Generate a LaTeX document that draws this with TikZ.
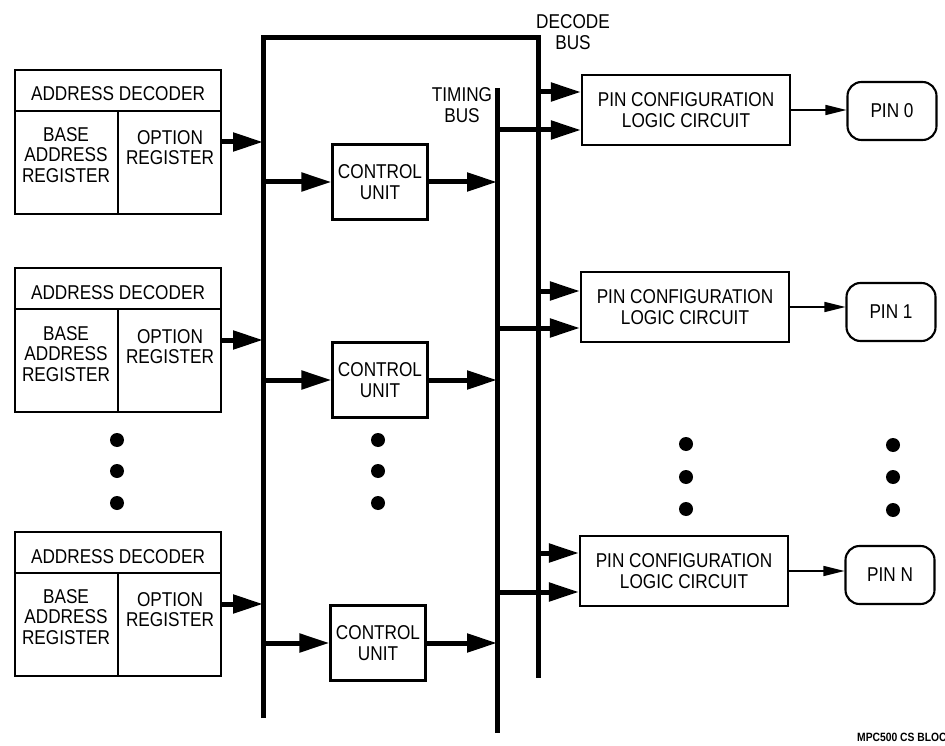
\documentclass[tikz,border=0pt]{standalone}
\usepackage{fontspec}
\setmainfont{Liberation Sans}[FakeStretch=0.86]
\usetikzlibrary{arrows.meta,calc}
\newcommand{\lbl}{\fontsize{20}{20.5}\selectfont}
\newcommand{\tagfont}{\fontsize{12}{13}\selectfont}
\tikzset{
  boxline/.style={line width=2.1pt},
  regbox/.style={draw,boxline,inner sep=0,minimum width=206pt,minimum height=144pt},
  cubox/.style={draw,boxline,inner sep=0,minimum width=95pt,minimum height=75pt,align=center,font=\lbl},
  pcbox/.style={draw,boxline,inner sep=0,minimum width=208pt,minimum height=70pt,align=center,font=\lbl},
  pinbox/.style={draw,boxline,rounded corners=14pt,inner sep=0,minimum width=89pt,minimum height=58pt,font=\lbl},
  txt/.style={inner sep=0,align=center,font=\lbl},
  bus/.style={line width=5pt,line join=miter},
  feed/.style={line width=5pt,-{Triangle[length=30pt,width=18pt]}},
  pinfeed/.style={line width=1.4pt,-{Triangle[length=21pt,width=10pt]}},
  blob/.style={circle,fill,inner sep=0,minimum size=14pt}
}
\begin{document}
\begin{tikzpicture}[x=1pt,y=-1pt]
\useasboundingbox (0,0) rectangle (945,746);
% buses
\coordinate (lbus) at (263,0);
\coordinate (tbus) at (497,0);
\coordinate (dbus) at (538,0);
\draw[bus] (263,718) -- (263,38) -- (538,38) -- (538,678);
\draw[line width=5pt] (497,88) -- (497,733);
\node[txt] (declbl) at (573,32) {DECODE\\BUS};
\node[txt] (timlbl) at (462,105) {TIMING\\BUS};
% address decoders
\node[regbox] (ad1) at (118,142) {};
\node[regbox] (ad2) at (118,340) {};
\node[regbox] (ad3) at (118,604) {};
\draw[boxline] ([yshift=-42pt]ad1.north west) -- ([yshift=-42pt]ad1.north east);
\draw[boxline] ([yshift=-42pt]ad1.north) -- (ad1.south);
\draw[boxline] ([yshift=-42pt]ad2.north west) -- ([yshift=-42pt]ad2.north east);
\draw[boxline] ([yshift=-42pt]ad2.north) -- (ad2.south);
\draw[boxline] ([yshift=-42pt]ad3.north west) -- ([yshift=-42pt]ad3.north east);
\draw[boxline] ([yshift=-42pt]ad3.north) -- (ad3.south);
\node[txt] (ad1h) at ([yshift=-25pt]ad1.north) {ADDRESS DECODER};
\node[txt] (ad2h) at ([yshift=-26pt]ad2.north) {ADDRESS DECODER};
\node[txt] (ad3h) at ([yshift=-26pt]ad3.north) {ADDRESS DECODER};
\node[txt,anchor=north] (ad1b) at ([xshift=-52pt,yshift=-58pt]ad1.north) {BASE\\ADDRESS\\REGISTER};
\node[txt,anchor=north] (ad2b) at ([xshift=-52pt,yshift=-59pt]ad2.north) {BASE\\ADDRESS\\REGISTER};
\node[txt,anchor=north] (ad3b) at ([xshift=-52pt,yshift=-58pt]ad3.north) {BASE\\ADDRESS\\REGISTER};
\node[txt,anchor=north] (ad1o) at ([xshift=52pt,yshift=-61pt]ad1.north) {OPTION\\REGISTER};
\node[txt,anchor=north] (ad2o) at ([xshift=52pt,yshift=-62pt]ad2.north) {OPTION\\REGISTER};
\node[txt,anchor=north] (ad3o) at ([xshift=52pt,yshift=-61pt]ad3.north) {OPTION\\REGISTER};
\draw[feed] (ad1.east) -- (ad1.east -| lbus);
\draw[feed] (ad2.east) -- (ad2.east -| lbus);
\draw[feed] (ad3.east) -- (ad3.east -| lbus);
% control units
\node[cubox] (cu1) at (380,182) {CONTROL\\UNIT};
\node[cubox] (cu2) at (380,380) {CONTROL\\UNIT};
\node[cubox] (cu3) at (378,643) {CONTROL\\UNIT};
\draw[feed] (cu1.west -| lbus) -- (cu1.west);
\draw[feed] (cu2.west -| lbus) -- (cu2.west);
\draw[feed] (cu3.west -| lbus) -- (cu3.west);
\draw[feed] (cu1.east) -- (cu1.east -| tbus);
\draw[feed] (cu2.east) -- (cu2.east -| tbus);
\draw[feed] (cu3.east) -- (cu3.east -| tbus);
% pin configuration logic
\node[pcbox] (pc1) at (686,110) {PIN CONFIGURATION\\LOGIC CIRCUIT};
\node[pcbox] (pc2) at (685,307) {PIN CONFIGURATION\\LOGIC CIRCUIT};
\node[pcbox] (pc3) at (684,571) {PIN CONFIGURATION\\LOGIC CIRCUIT};
\coordinate (pc1a) at ([yshift=18pt]pc1.west);
\coordinate (pc1b) at ([yshift=-20pt]pc1.west);
\coordinate (pc2a) at ([yshift=16pt]pc2.west);
\coordinate (pc2b) at ([yshift=-21pt]pc2.west);
\coordinate (pc3a) at ([yshift=18pt]pc3.west);
\coordinate (pc3b) at ([yshift=-21pt]pc3.west);
\draw[feed] (pc1a -| dbus) -- (pc1a);
\draw[feed] (pc1b -| tbus) -- (pc1b);
\draw[feed] (pc2a -| dbus) -- (pc2a);
\draw[feed] (pc2b -| tbus) -- (pc2b);
\draw[feed] (pc3a -| dbus) -- (pc3a);
\draw[feed] (pc3b -| tbus) -- (pc3b);
% pins
\node[pinbox] (pin0) at (892,111) {PIN 0};
\node[pinbox] (pin1) at (891,312) {PIN 1};
\node[pinbox] (pinn) at (890,575) {PIN N};
\draw[pinfeed] (pc1.east) -- (pc1.east -| pin0.west);
\draw[pinfeed] (pc2.east) -- (pc2.east -| pin1.west);
\draw[pinfeed] (pc3.east) -- (pc3.east -| pinn.west);
% ellipsis dots
\node[blob] (da1) at (117,440) {};
\node[blob] (da2) at (117,471) {};
\node[blob] (da3) at (117,503) {};
\node[blob] (db1) at (378,440) {};
\node[blob] (db2) at (378,471) {};
\node[blob] (db3) at (378,503) {};
\node[blob] (dc1) at (686,444) {};
\node[blob] (dc2) at (686,477) {};
\node[blob] (dc3) at (686,509) {};
\node[blob] (dd1) at (893,445) {};
\node[blob] (dd2) at (893,477) {};
\node[blob] (dd3) at (893,510) {};
\node[anchor=west,inner sep=0,font=\tagfont\bfseries] (tag) at (857,737) {MPC500 CS BLOCK};
\end{tikzpicture}
\end{document}
